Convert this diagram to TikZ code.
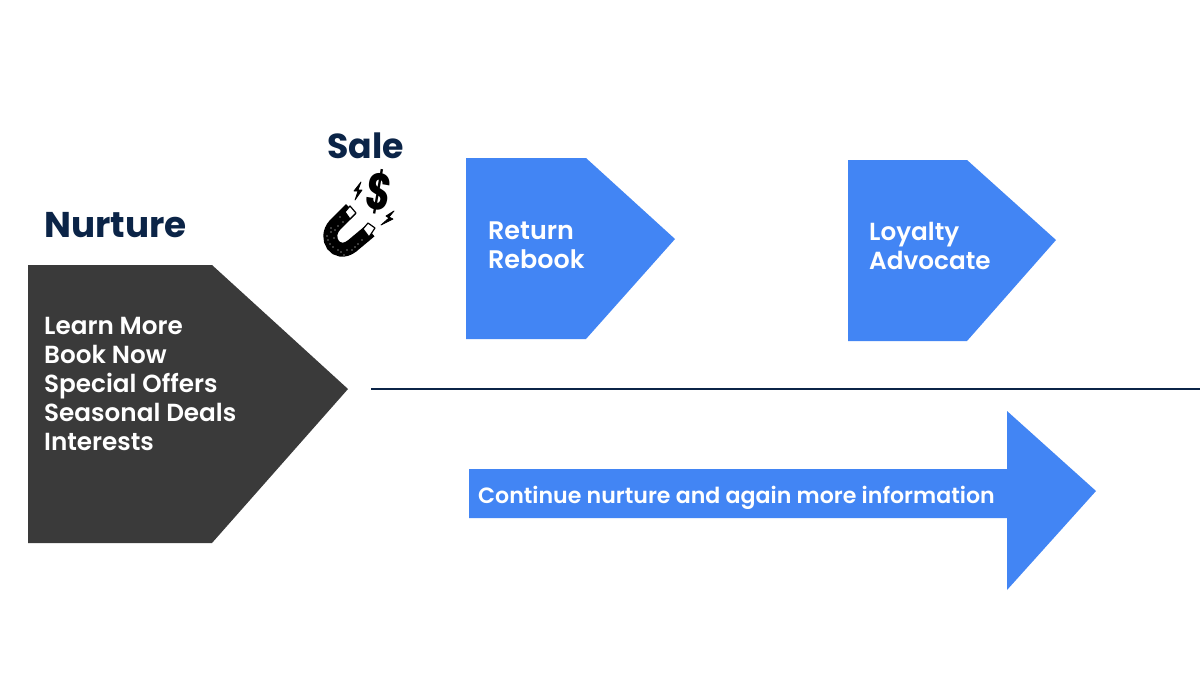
\documentclass[tikz,border=0pt]{standalone}
\usepackage{fontspec}
\setmainfont{Poppins}[BoldFont={Poppins SemiBold}]
\newfontfamily\headfont{Poppins Bold}
\definecolor{blueshape}{HTML}{4285F4}
\definecolor{darkshape}{HTML}{3A3A3A}
\definecolor{navy}{HTML}{0B2447}
\tikzset{
  x=1pt,y=-1pt,
  heading/.style={anchor=base west,inner sep=0pt,text=navy,font=\fontsize{35.8}{40}\selectfont\headfont},
  body/.style={anchor=north west,inner sep=0pt,text=white,align=left,font=\fontsize{24.7}{29}\selectfont\bfseries},
  small/.style={anchor=base west,inner sep=0pt,text=white,font=\fontsize{22.1}{26}\selectfont\bfseries},
  dot/.style={fill=white,draw=none},
  bolt/.style={fill=black,draw=black,line width=0.8pt,line join=round}
}
\begin{document}
\begin{tikzpicture}
\useasboundingbox (0,0) rectangle (1200,675);
\fill[white] (0,0) rectangle (1200,675);
\fill[darkshape] (28,265) -- (212,265) -- (348,389) -- (212,543) -- (28,543) -- cycle;
\fill[blueshape] (466,158) -- (586,158) -- (675,239) -- (586,339) -- (466,339) -- cycle;
\fill[blueshape] (848,160) -- (967,160) -- (1056,240) -- (967,341) -- (848,341) -- cycle;
\fill[blueshape] (469,469) -- (1007,469) -- (1007,411) -- (1096,491) -- (1007,590) -- (1007,518) -- (469,518) -- cycle;
\coordinate (lineStart) at (371,389);
\coordinate (lineEnd) at (1200,389);
\draw[navy,line width=2pt] (lineStart) -- (lineEnd);
\node[heading] (nurture) at (44,237) {Nurture};
\node[heading,font=\fontsize{34.7}{40}\selectfont\headfont] (sale) at (327,158) {Sale};
\node[body] (list) at (44,317.5) {Learn More\\Book Now\\Special Offers\\Seasonal Deals\\Interests};
\node[body,font=\fontsize{25.4}{29}\selectfont\bfseries] (ret) at (488,222) {Return\\Rebook};
\node[body] (loy) at (869,222.5) {Loyalty\\Advocate};
\node[small] (cont) at (478,503) {Continue nurture and again more information};
% magnet
\draw[black,line width=14pt,line cap=butt] (351,209) -- (335,225) .. controls (323,238) and (336,258) .. (352,246) -- (370,231);
\fill[white,draw=black,line width=1.2pt,line join=round] (345,212) -- (350,206) -- (356,213) -- (350,219) -- cycle;
\fill[white,draw=black,line width=1.2pt,line join=round] (363,229) -- (368,223) -- (375,228) -- (369,237) -- cycle;
\foreach \a/\b in {331/232,334/238,328/240,333/247,341/252,347/250,352/250,358/244,343/222,338/226,335/230,327/236,338/250,362/240,330/244,344/255,331/228,355/247,340/217}
  \fill[dot] (\a,\b) circle (0.7);
% dollar
\node[inner sep=0pt,rotate=-10,yscale=1.35,font=\fontsize{38}{38}\selectfont\headfont,text=black] (dollar) at (379,192) {\$};
% bolts
\path[bolt] (361,182) -- (354,191) -- (358,191) -- (355,200) -- (362,190) -- (358,190) -- cycle;
\path[bolt] (394,211) -- (386,216) -- (389,218) -- (381,225) -- (393,219) -- (389,217) -- cycle;
\end{tikzpicture}
\end{document}
